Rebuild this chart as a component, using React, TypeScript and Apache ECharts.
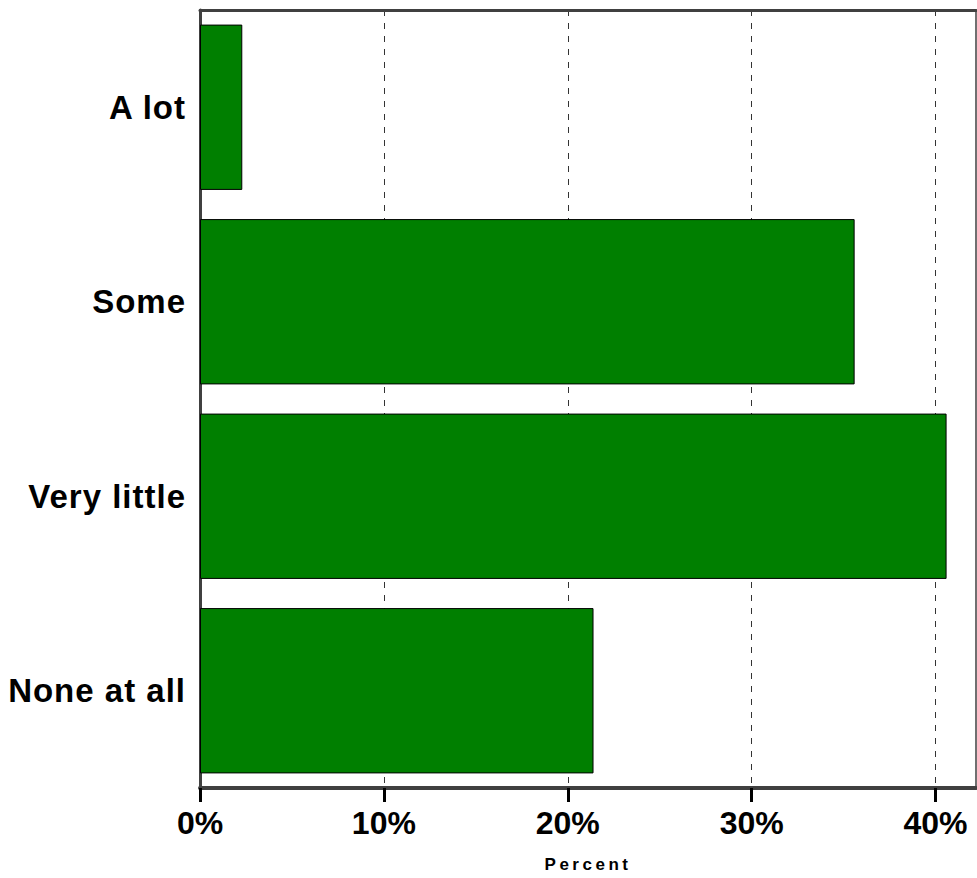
import React, { useEffect, useRef } from "react";
import * as echarts from "echarts";

const categories = ["A lot", "Some", "Very little", "None at all"];
const percentValues = [2.3, 35.6, 40.6, 21.4];
const xTickValues = [0, 10, 20, 30, 40];
const xAxisName = "Percent";

const FONT = "'Liberation Sans', Arial, Helvetica, sans-serif";

const css = `
.chartbox text[style*="33px"] { letter-spacing: 1px; }
.chartbox text[style*="17px"] { letter-spacing: 3.5px; }
`;

export default function App() {
  const ref = useRef<HTMLDivElement>(null);
  useEffect(() => {
    document.body.style.margin = "0";
    if (!ref.current) return;
    const chart = echarts.init(ref.current, undefined, { renderer: "svg" });
    chart.setOption({
      animation: false,
      backgroundColor: "#ffffff",
      grid: { left: 200, right: 1, top: 10, bottom: 90, containLabel: false },
      xAxis: [
        {
          type: "value",
          min: 0,
          max: 42.2,
          interval: 10,
          position: "bottom",
          name: xAxisName,
          nameLocation: "middle",
          nameGap: 68,
          nameTextStyle: { fontFamily: FONT, fontWeight: "bold", fontSize: 17, color: "#000" },
          axisLine: { show: true, onZero: false, lineStyle: { color: "#404040", width: 4 } },
          axisTick: { show: true, length: 14, customValues: xTickValues, lineStyle: { color: "#000", width: 3 } },
          axisLabel: {
            customValues: xTickValues,
            formatter: (v: number) => `${v}%`,
            margin: 19,
            fontFamily: FONT,
            fontWeight: "bold",
            fontSize: 32,
            color: "#000",
          },
          splitLine: { show: true, lineStyle: { color: "#333", width: 1, type: [6, 7] } },
        },
        {
          type: "value",
          min: 0,
          max: 42.2,
          position: "top",
          axisLine: { show: true, onZero: false, lineStyle: { color: "#404040", width: 3 } },
          axisTick: { show: false },
          axisLabel: { show: false },
          splitLine: { show: false },
        },
      ],
      yAxis: [
        {
          type: "category",
          data: categories,
          inverse: true,
          position: "left",
          axisLine: { show: true, onZero: false, lineStyle: { color: "#404040", width: 3 } },
          axisTick: { show: false },
          axisLabel: {
            margin: 14,
            fontFamily: FONT,
            fontWeight: "bold",
            fontSize: 33,
            color: "#000",
          },
        },
        {
          type: "category",
          data: categories,
          inverse: true,
          position: "right",
          axisLine: { show: true, onZero: false, lineStyle: { color: "#404040", width: 1.5 } },
          axisTick: { show: false },
          axisLabel: { show: false },
        },
      ],
      series: [
        {
          type: "bar",
          data: percentValues,
          xAxisIndex: 0,
          yAxisIndex: 0,
          barCategoryGap: "15%",
          itemStyle: { color: "#007f00", borderColor: "#000", borderWidth: 1 },
        },
      ],
    });
    return () => chart.dispose();
  }, []);
  return (
    <>
      <style>{css}</style>
      <div className="chartbox" ref={ref} style={{ width: 977, height: 878 }} />
    </>
  );
}
